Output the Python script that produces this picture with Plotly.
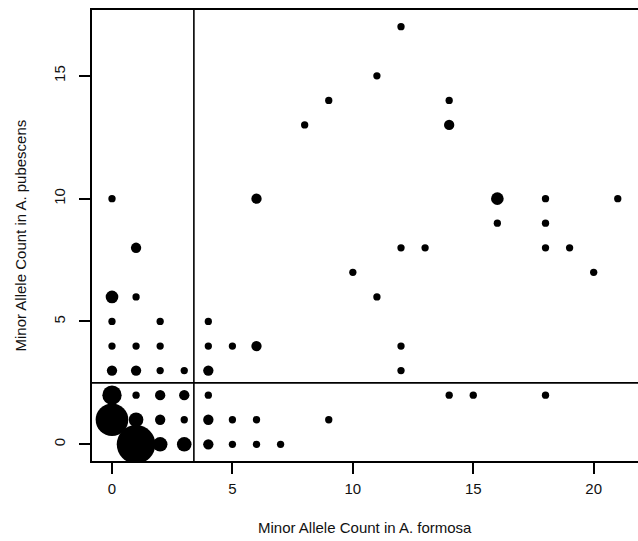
import plotly.graph_objects as go

# Minor allele counts (x: A. formosa, y: A. pubescens) and number of SNPs at each pair
formosa = [0, 1, 0, 2, 4, 0, 1, 2, 4, 5, 6, 0, 1, 2, 3, 4,
           0, 1, 2, 3, 4, 0, 1, 2, 3, 4, 5, 6, 9,
           1, 2, 3, 4, 5, 6, 7,
           0, 1, 6, 8, 9, 11, 12, 14, 14, 16, 18, 21, 16, 18,
           12, 13, 18, 19, 10, 20, 11, 12, 12, 14, 15, 18]
pubescens = [6, 6, 5, 5, 5, 4, 4, 4, 4, 4, 4, 3, 3, 3, 3, 3,
             2, 2, 2, 2, 2, 1, 1, 1, 1, 1, 1, 1, 1,
             0, 0, 0, 0, 0, 0, 0,
             10, 8, 10, 13, 14, 15, 17, 14, 13, 10, 10, 10, 9, 9,
             8, 8, 8, 8, 7, 7, 6, 4, 3, 2, 2, 2]
snp_count = [3, 1, 1, 1, 1, 1, 1, 1, 1, 1, 2, 2, 2, 1, 1, 2,
             7, 1, 2, 2, 1, 20, 4, 2, 1, 2, 1, 1, 1,
             28, 4, 4, 2, 1, 1, 1,
             1, 2, 2, 1, 1, 1, 1, 1, 2, 3, 1, 1, 1, 1,
             1, 1, 1, 1, 1, 1, 1, 1, 1, 1, 1, 1]

x_cut = 3.4
y_cut = 2.5
x_ticks = [0, 5, 10, 15, 20]
y_ticks = [0, 5, 10, 15]
x_title = "Minor Allele Count in A. formosa"
y_title = "Minor Allele Count in A. pubescens"

font = dict(family="Liberation Sans, Arial, sans-serif", size=15, color="#111111")

fig = go.Figure()
fig.add_trace(go.Scatter(
    x=formosa, y=pubescens, mode="markers",
    marker=dict(color="black", opacity=1, size=snp_count, sizemode="area",
                sizeref=2 / 53.3, sizemin=1, line=dict(width=0)),
    hoverinfo="x+y+text", text=[f"n={c}" for c in snp_count],
    showlegend=False,
))

fig.add_shape(type="line", xref="x", yref="paper", x0=x_cut, x1=x_cut, y0=0, y1=1,
              line=dict(color="black", width=1.6))
fig.add_shape(type="line", xref="paper", yref="y", x0=0, x1=1, y0=y_cut, y1=y_cut,
              line=dict(color="black", width=1.6))

fig.add_annotation(text=x_title, xref="paper", yref="paper", x=0.5, y=0,
                   yshift=-66, showarrow=False, xanchor="center", yanchor="middle",
                   font=font)
fig.add_annotation(text=y_title, xref="paper", yref="paper", x=0, y=0.5,
                   xshift=-72, showarrow=False, xanchor="center", yanchor="middle",
                   textangle=-90, font=font)

fig.update_layout(
    width=638, height=541,
    margin=dict(l=92, r=0, t=10, b=80, autoexpand=False),
    plot_bgcolor="white", paper_bgcolor="white",
    font=font,
    xaxis=dict(range=[-0.83, 21.84], tickvals=x_ticks, ticks="outside", ticklen=11,
               tickwidth=1.5, tickcolor="black", showgrid=False, zeroline=False,
               showline=True, linecolor="black", linewidth=1.8, mirror=True,
               automargin=False, ticklabelstandoff=2),
    yaxis=dict(range=[-0.68, 17.68], tickvals=y_ticks, ticks="outside", ticklen=11,
               tickwidth=1.5, tickcolor="black", showgrid=False, zeroline=False,
               showline=True, linecolor="black", linewidth=1.8, mirror=False,
               tickangle=-90, automargin=False, ticklabelstandoff=8),
)

fig.write_html("out.html", config={"displayModeBar": False},
               post_script="document.body.style.margin='0';document.body.style.overflow='hidden';")
